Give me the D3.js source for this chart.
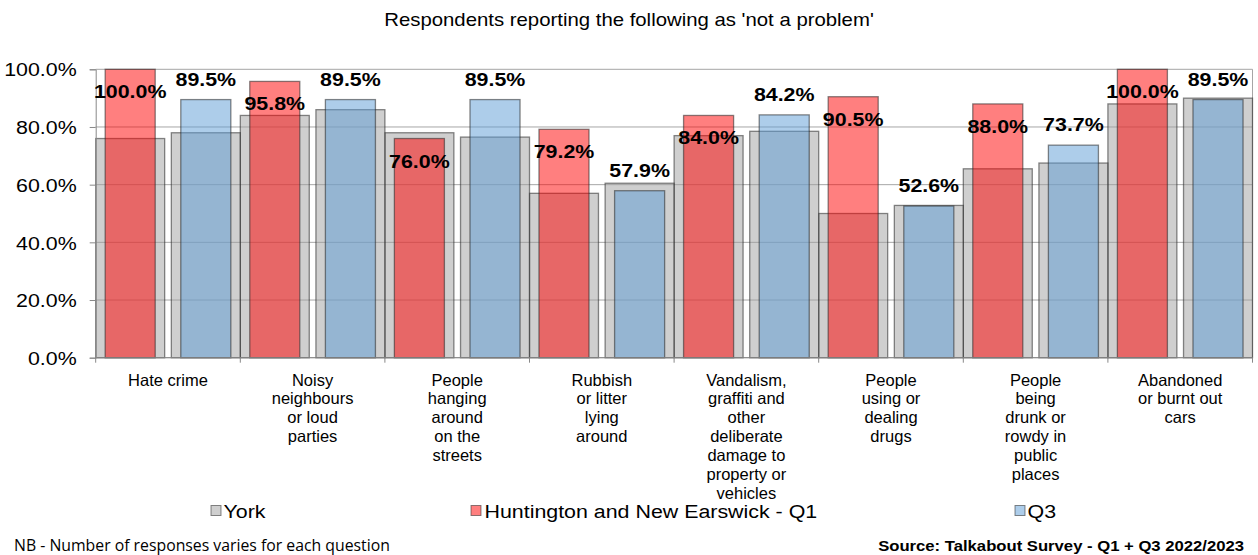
<!DOCTYPE html>
<html>
<head>
<meta charset="utf-8">
<script src="https://cdn.jsdelivr.net/npm/d3@7"></script>
<style>
  html, body { margin: 0; padding: 0; background: #fff; }
  svg { display: block; font-family: "Liberation Sans", Arial, sans-serif; }
</style>
</head>
<body>
<svg id="chart" width="1258" height="555"></svg>
<script>
// ---- data ----
const categories = [
  "Hate crime",
  "Noisy\nneighbours\nor loud\nparties",
  "People\nhanging\naround\non the\nstreets",
  "Rubbish\nor litter\nlying\naround",
  "Vandalism,\ngraffiti and\nother\ndeliberate\ndamage to\nproperty or\nvehicles",
  "People\nusing or\ndealing\ndrugs",
  "People\nbeing\ndrunk or\nrowdy in\npublic\nplaces",
  "Abandoned\nor burnt out\ncars"
];
const yorkQ1 = [76.0, 84.0, 78.0, 57.0, 77.0, 50.0, 65.5, 88.0];
const yorkQ3 = [78.0, 86.0, 76.5, 60.5, 78.5, 52.8, 67.5, 90.0];
const hnewQ1 = [100.0, 95.8, 76.0, 79.2, 84.0, 90.5, 88.0, 100.0];
const hnewQ3 = [89.5, 89.5, 89.5, 57.9, 84.2, 52.6, 73.7, 89.5];
const yTicks = [0, 20, 40, 60, 80, 100];
const legendLabels = ["York", "Huntington and New Earswick - Q1", "Q3"];
const titleText = "Respondents reporting the following as 'not a problem'";
const noteText = "NB - Number of responses varies for each question";
const sourceText = "Source: Talkabout Survey - Q1 + Q3 2022/2023";

// ---- layout ----
const svg = d3.select("#chart");
const X0 = 95.7, X1 = 1252.5, YTOP = 69.3, YBOT = 357.7;
const SX = 1.15; // horizontal stretch of text
const x = d3.scaleBand().domain(d3.range(categories.length)).range([X0, X1]).padding(0);
const y = d3.scaleLinear().domain([0, 100]).range([YBOT, YTOP]);
const bw = x.bandwidth();
const greyW = bw * 0.477;
const barW = bw * 0.346;

const cols = {
  york: "rgba(160,160,160,0.5)",
  q1: "rgba(255,0,0,0.5)",
  q3: "rgba(91,155,213,0.5)",
  stroke: "rgba(40,40,40,0.55)"
};

function stext(g, px, py, txt, anchor, size, weight, sx) {
  return g.append("text")
    .attr("transform", `translate(${px},${py}) scale(${sx},1)`)
    .attr("text-anchor", anchor)
    .attr("font-size", size)
    .attr("font-weight", weight || "normal")
    .attr("fill", "#000")
    .text(txt);
}

// title
stext(svg, 629, 26, titleText, "middle", 17.7, "normal", SX);

// gridlines
svg.append("g").selectAll("line").data(yTicks).join("line")
  .attr("x1", X0).attr("x2", X1)
  .attr("y1", d => y(d)).attr("y2", d => y(d))
  .attr("stroke", "#a6a6a6").attr("stroke-width", 1);

// plot right border
svg.append("line").attr("x1", X1).attr("x2", X1).attr("y1", YTOP).attr("y2", YBOT)
  .attr("stroke", "#a6a6a6");

// bars
const slots = [
  { york: yorkQ1, val: hnewQ1, col: cols.q1, gx: i => x(i) },
  { york: yorkQ3, val: hnewQ3, col: cols.q3, gx: i => x(i) + bw - greyW }
];
const barsG = svg.append("g");
slots.forEach(s => {
  barsG.append("g").selectAll("rect").data(s.york).join("rect")
    .attr("x", (d, i) => s.gx(i)).attr("width", greyW)
    .attr("y", d => y(d)).attr("height", d => YBOT - y(d))
    .attr("fill", cols.york).attr("stroke", cols.stroke).attr("stroke-width", 1.3);
});
slots.forEach(s => {
  barsG.append("g").selectAll("rect").data(s.val).join("rect")
    .attr("x", (d, i) => s.gx(i) + (greyW - barW) / 2).attr("width", barW)
    .attr("y", d => y(d)).attr("height", d => YBOT - y(d))
    .attr("fill", s.col).attr("stroke", cols.stroke).attr("stroke-width", 1.3);
});

// axes
const yAxis = svg.append("g").attr("transform", `translate(${X0},0)`)
  .call(d3.axisLeft(y).tickValues(yTicks).tickSize(6).tickPadding(0)
    .tickFormat(d => d3.format(".1f")(d) + "%"));
yAxis.select(".domain").attr("stroke", "#888");
yAxis.selectAll(".tick line").attr("stroke", "#888");
yAxis.selectAll(".tick text")
  .attr("font-family", "Liberation Sans, Arial, sans-serif")
  .attr("font-size", 18.6).attr("fill", "#000")
  .attr("x", -19 / SX).attr("dy", "0.36em")
  .attr("transform", `scale(${SX},1)`);

svg.append("line").attr("x1", X0).attr("x2", X1).attr("y1", YBOT).attr("y2", YBOT)
  .attr("stroke", "#888");
svg.append("g").selectAll("line").data(d3.range(categories.length + 1)).join("line")
  .attr("x1", i => i < categories.length ? x(i) : X1)
  .attr("x2", i => i < categories.length ? x(i) : X1)
  .attr("y1", YBOT).attr("y2", YBOT + 5)
  .attr("stroke", "#888");

// data labels
const labG = svg.append("g");
hnewQ1.forEach((d, i) => {
  stext(labG, slots[0].gx(i) + greyW / 2, y(d) + 29, d.toFixed(1) + "%", "middle", 18.6, "bold", SX);
});
hnewQ3.forEach((d, i) => {
  stext(labG, slots[1].gx(i) + greyW / 2, y(d) - 14, d.toFixed(1) + "%", "middle", 18.6, "bold", SX);
});

// category labels
const catG = svg.append("g");
categories.forEach((c, i) => {
  const t = catG.append("text")
    .attr("text-anchor", "middle").attr("font-size", 16.5).attr("fill", "#000");
  c.split("\n").forEach((ln, j) => {
    t.append("tspan").attr("x", x(i) + bw / 2).attr("y", 385.5 + j * 18.9).text(ln);
  });
});

// legend
const legItems = [
  { label: legendLabels[0], col: cols.york, sq: 211, tx: 223.5 },
  { label: legendLabels[1], col: cols.q1, sq: 471, tx: 484.5 },
  { label: legendLabels[2], col: cols.q3, sq: 1015, tx: 1027.5 }
];
const legG = svg.append("g");
legItems.forEach(it => {
  legG.append("rect").attr("x", it.sq).attr("y", 505.5).attr("width", 10).attr("height", 10)
    .attr("fill", it.col).attr("stroke", cols.stroke).attr("stroke-width", 1);
  stext(legG, it.tx, 518, it.label, "start", 18.6, "normal", SX);
});

// footer
svg.append("text").attr("x", 14).attr("y", 551)
  .attr("font-family", "'Open Sans', 'Noto Sans', sans-serif")
  .attr("font-size", 15.8).attr("fill", "#000").text(noteText);
stext(svg, 1244, 551, sourceText, "end", 14.5, "bold", SX);
</script>
</body>
</html>
